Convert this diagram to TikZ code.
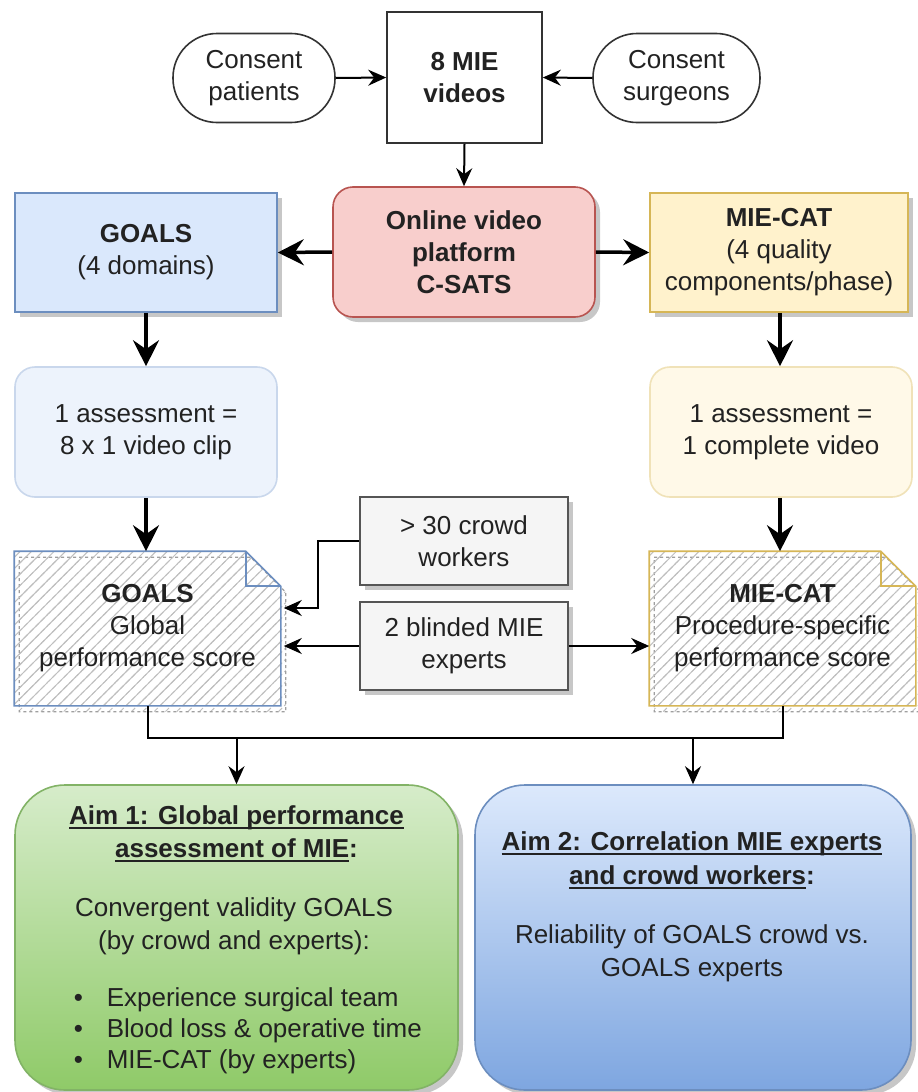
\documentclass[tikz,border=0pt]{standalone}
\usepackage{fontspec}
\setmainfont{Liberation Sans}
\usetikzlibrary{arrows.meta,shadows,patterns.meta,calc}
\newcommand{\myul}[1]{\leavevmode\setbox0=\hbox{#1}\rlap{\rule[-4.5pt]{\wd0}{1.6pt}}\box0}
\definecolor{txt}{HTML}{222222}
\definecolor{redF}{HTML}{F8CECC}\definecolor{redD}{HTML}{B85450}
\definecolor{bluF}{HTML}{DAE8FC}\definecolor{bluD}{HTML}{6C8EBF}
\definecolor{yelF}{HTML}{FFF2CC}\definecolor{yelD}{HTML}{D6B656}
\definecolor{lbluF}{HTML}{EDF3FC}\definecolor{lbluD}{HTML}{C9D7EC}
\definecolor{lyelF}{HTML}{FFF9E8}\definecolor{lyelD}{HTML}{F0E2B8}
\definecolor{grF}{HTML}{F5F5F5}\definecolor{grD}{HTML}{555555}
\definecolor{g1}{HTML}{D6ECCA}\definecolor{g2}{HTML}{8FCA68}\definecolor{gD}{HTML}{82B366}
\definecolor{b1}{HTML}{DCE9FC}\definecolor{b2}{HTML}{7EA6E0}
\newcommand{\notefig}[2]{%
  \draw[gray!75, line width=1.2pt, dashed, pattern={Lines[angle=45,distance=8pt,line width=1pt]}, pattern color=gray!50]
    ([shift={(5,6)}]#1.north west) -- ([shift={(-30,6)}]#1.north east) -- ([shift={(5,41)}]#1.north east)
    -- ([shift={(5,6)}]#1.south east) -- ([shift={(5,6)}]#1.south west) -- cycle;
  \draw[#2, line width=1.6pt, pattern={Lines[angle=45,distance=8pt,line width=1pt]}, pattern color=gray!50]
    (#1.north west) -- ([xshift=-35pt]#1.north east) -- ([yshift=-35pt]#1.north east)
    -- (#1.south east) -- (#1.south west) -- cycle;
  \draw[#2, line width=1.6pt] ([xshift=-35pt]#1.north east) -- ([xshift=-35pt,yshift=-35pt]#1.north east) -- ([yshift=-35pt]#1.north east);
}
\begin{document}
\begin{tikzpicture}[x=1pt,y=-1pt,
  base/.style={font=\fontsize{26}{32}\selectfont, text=txt, align=center, inner sep=0pt, line width=1.6pt},
  shad/.style={drop shadow={shadow xshift=5pt, shadow yshift=-5pt, fill=black, opacity=0.22}},
  thinarr/.style={line width=2pt, draw=black, -{Stealth[length=18pt,width=16pt,inset=6pt]}},
  thickarr/.style={line width=3.5pt, draw=black, -{Stealth[length=26pt,width=26pt,inset=9pt]}},
  plain/.style={line width=2pt, draw=black},
]
\useasboundingbox (0,0) rectangle (918,1092);
\fill[white] (0,0) rectangle (918,1092);

% top row
\node[base, draw=black!80, fill=white, rounded corners=44pt, minimum width=162pt, minimum height=89pt] (pat) at (254,78) {Consent\\patients};
\node[base, draw=black!80, fill=white, minimum width=155pt, minimum height=131pt] (mie) at (464.5,77.5) {\textbf{8 MIE}\\\textbf{videos}};
\node[base, draw=black!80, fill=white, rounded corners=44pt, minimum width=167pt, minimum height=89pt] (sur) at (676.5,78) {Consent\\surgeons};

% second row
\node[base, draw=redD, fill=redF, rounded corners=20pt, shad, minimum width=262pt, minimum height=130pt] (online) at (464,252) {\textbf{Online video}\\\textbf{platform}\\\textbf{C-SATS}};
\node[base, draw=bluD, fill=bluF, shad, minimum width=262pt, minimum height=119pt] (goals) at (146,252.5) {\textbf{GOALS}\\(4 domains)};
\node[base, draw=yelD, fill=yelF, shad, minimum width=258pt, minimum height=119pt] (miecat) at (779,252.5) {\textbf{MIE-CAT}\\(4 quality\\components/phase)};

% third row
\node[base, draw=lbluD, fill=lbluF, rounded corners=20pt, minimum width=262pt, minimum height=130pt] (ass1) at (146,432) {1 assessment =\\8 x 1 video clip};
\node[base, draw=lyelD, fill=lyelF, rounded corners=20pt, minimum width=262pt, minimum height=130pt] (ass2) at (781,432) {1 assessment =\\1 complete video};

% middle boxes
\node[base, draw=grD, fill=grF, shad, minimum width=208pt, minimum height=88pt] (crowd) at (464,541) {> 30 crowd\\workers};
\node[base, draw=grD, fill=grF, shad, minimum width=208pt, minimum height=88pt] (exp) at (464,646) {2 blinded MIE\\experts};

% score notes
\node[base, minimum width=265pt, minimum height=153pt] (gs) at (147.5,628.5) {};
\node[base, minimum width=265pt, minimum height=153pt] (ms) at (782.5,628.5) {};
\notefig{gs}{bluD}
\notefig{ms}{yelD}
\node[base] (gstext) at (gs) {\textbf{GOALS}\\Global\\performance score};
\node[base] (mstext) at (ms) {\textbf{MIE-CAT}\\Procedure-specific\\performance score};

% aim boxes
\node[draw=gD, line width=1.6pt, rounded corners=50pt, top color=g1, bottom color=g2, shad, minimum width=443pt, minimum height=305pt] (aim1) at (236.5,937.5) {};
\node[draw=bluD, line width=1.6pt, rounded corners=50pt, top color=b1, bottom color=b2, shad, minimum width=436pt, minimum height=305pt] (aim2) at (693,937.5) {};

\node[base, font=\fontsize{26}{33}\selectfont\bfseries] (aim1h) at (236.5,833.5) {\myul{Aim 1: Global performance}\\\myul{assessment of MIE}:};
\node[base, font=\fontsize{26}{33}\selectfont] (aim1b) at (234,926.5) {Convergent validity GOALS\\(by crowd and experts):};
\node[base, font=\fontsize{26}{31}\selectfont, align=left, anchor=west] (aim1l) at (73,1031) {\makebox[33pt][l]{\textbullet}Experience surgical team\\\makebox[33pt][l]{\textbullet}Blood loss \& operative time\\\makebox[33pt][l]{\textbullet}MIE-CAT (by experts)};

\node[base, font=\fontsize{26}{34}\selectfont\bfseries] (aim2h) at (692,860) {\myul{Aim 2: Correlation MIE experts}\\\myul{and crowd workers}:};
\node[base, font=\fontsize{26}{33}\selectfont] (aim2b) at (692,953.5) {Reliability of GOALS crowd vs.\\GOALS experts};

% connectors top
\draw[thinarr] (pat.east) -- (mie.west);
\draw[thinarr] (sur.west) -- (mie.east);
\draw[thinarr] (mie.south) -- (online.north);
\draw[thickarr] (online.west) -- (goals.east);
\draw[thickarr] (online.east) -- (miecat.west);
\draw[thickarr] (goals.south) -- (ass1.north);
\draw[thickarr] ([xshift=1pt]miecat.south) -- ([xshift=1pt]miecat.south |- ass2.north);
\draw[thickarr] (ass1.south) -- (ass1.south |- gs.north);
\draw[thickarr] ([xshift=-1pt]ass2.south) -- ([xshift=-1pt]ass2.south |- ms.north);

% crowd / experts connectors
\coordinate (gsr) at ([xshift=3pt]gs.east);
\coordinate (c1) at (318,541);
\coordinate (c2) at (318,608);
\draw[thinarr] (crowd.west) -- (c1) -- (c2) -- (gsr |- c2);
\draw[thinarr] (exp.west) -- (gsr |- exp.west);
\draw[thinarr] (exp.east) -- (ms.west |- exp.east);

% bottom join
\coordinate (b1) at (147.5,738);
\coordinate (b2) at (782.5,738);
\draw[plain] (gs.south) -- (b1) -- (b2) -- (ms.south);
\coordinate (j1) at (aim1.north |- b1);
\coordinate (j2) at (aim2.north |- b1);
\draw[thinarr] (j1) -- (aim1.north);
\draw[thinarr] (j2) -- (aim2.north);
\end{tikzpicture}
\end{document}
